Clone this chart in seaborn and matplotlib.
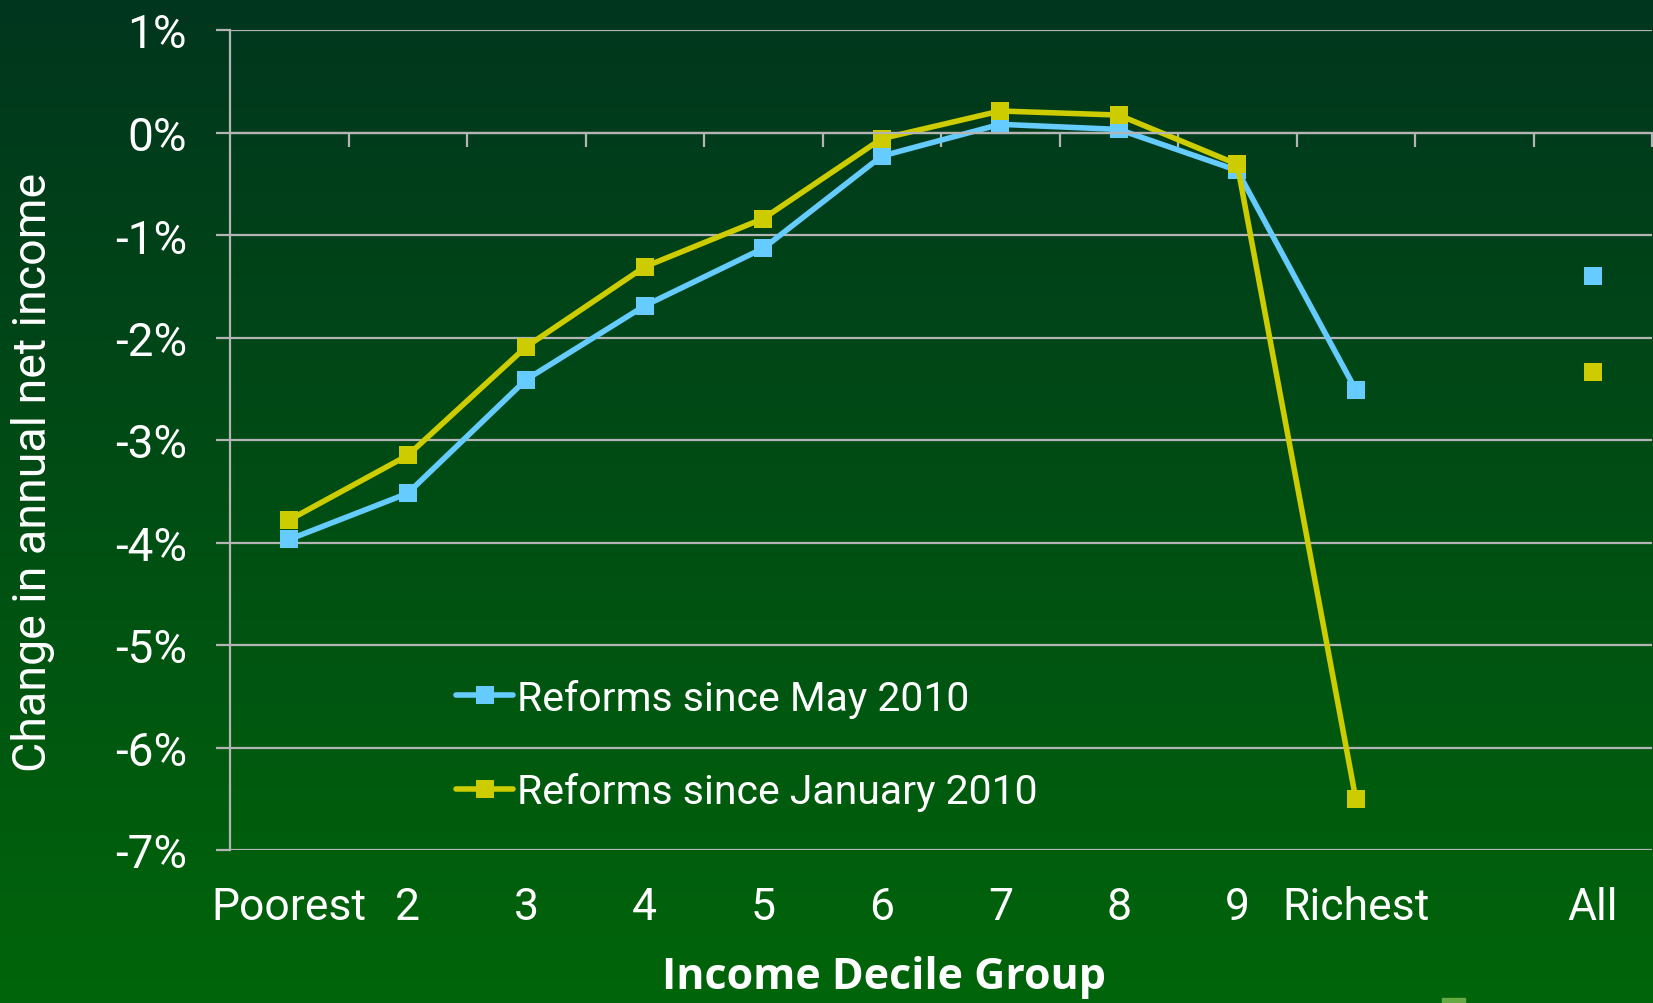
import numpy as np
import matplotlib
matplotlib.use('Agg')
import matplotlib.pyplot as plt
import seaborn as sns
from matplotlib.colors import LinearSegmentedColormap
from matplotlib.patches import Rectangle

# chart data (change in annual net income, %)
categories = ['Poorest', '2', '3', '4', '5', '6', '7', '8', '9', 'Richest', '', 'All']
may_2010 = [-3.97, -3.52, -2.41, -1.69, -1.13, -0.23, 0.08, 0.03, -0.37, -2.51]
jan_2010 = [-3.78, -3.15, -2.09, -1.31, -0.84, -0.06, 0.21, 0.17, -0.31, -6.50]
may_all = -1.40
jan_all = -2.34
y_ticks = [1, 0, -1, -2, -3, -4, -5, -6, -7]

blue = '#66ccff'
yellow = '#cccc00'
grid_col = '#b4b4b4'

sns.set_theme(style='white')
plt.rcParams['font.family'] = ['Roboto', 'DejaVu Sans']

fig = plt.figure(figsize=(16.53, 10.04), dpi=100)

# gradient background
bg = fig.add_axes([0, 0, 1, 1], zorder=-10)
cmap = LinearSegmentedColormap.from_list('bg', ['#00361e', '#00650a'])
bg.imshow(np.linspace(0, 1, 256).reshape(-1, 1), aspect='auto', cmap=cmap,
          extent=[0, 1, 0, 1])
bg.set_axis_off()

ax = fig.add_axes([230 / 1653, 1 - 851 / 1004, 1422 / 1653, 820 / 1004])
ax.set_facecolor('none')

pos = np.arange(len(categories))
sns.lineplot(x=pos[:10], y=may_2010, ax=ax, color=blue, lw=4, marker='s',
             markersize=13.5, markeredgewidth=0, label='Reforms since May 2010')
sns.lineplot(x=pos[:10], y=jan_2010, ax=ax, color=yellow, lw=4, marker='s',
             markersize=13.5, markeredgewidth=0, label='Reforms since January 2010')
sns.scatterplot(x=[pos[11]], y=[may_all], ax=ax, color=blue, marker='s', s=182,
                linewidth=0, legend=False)
sns.scatterplot(x=[pos[11]], y=[jan_all], ax=ax, color=yellow, marker='s', s=182,
                linewidth=0, legend=False)

ax.set_xlim(-0.5, 11.5)
ax.set_ylim(-7, 1)

# y axis with gridlines
ax.set_yticks(y_ticks)
ax.set_yticklabels([f'{t}%' for t in y_ticks], color='white', fontsize=33)
ax.yaxis.grid(True, color=grid_col, lw=1.6)
ax.tick_params(axis='y', direction='out', length=10, width=1.6, color=grid_col, pad=21, left=True)
for s in ['top', 'right']:
    ax.spines[s].set_visible(False)
ax.spines['left'].set_color(grid_col)
ax.spines['left'].set_linewidth(1.6)

# x axis sits at 0% with boundary ticks pointing down
ax.spines['bottom'].set_position(('data', 0))
ax.spines['bottom'].set_color(grid_col)
ax.spines['bottom'].set_linewidth(1.6)
ax.set_xticks(np.arange(0.5, 12, 1))
ax.set_xticklabels([])
ax.tick_params(axis='x', direction='out', length=10, width=1.6, color=grid_col, bottom=True)
ax.set_axisbelow(True)

# category labels below the plot
sec = ax.secondary_xaxis(0)
sec.set_xticks(pos)
sec.set_xticklabels(categories, color='white', fontsize=32)
sec.tick_params(length=0, pad=26)
sec.spines['bottom'].set_visible(False)

ax.set_xlabel('')
ax.set_ylabel('')
fig.text(884 / 1653, 1 - 978 / 1004, 'Income Decile Group', color='white', fontsize=31,
         fontweight='bold', family=['Open Sans', 'DejaVu Sans'], ha='center', va='center')
fig.text(33 / 1653, 1 - 472 / 1004, 'Change in annual net income', color='white', fontsize=33.5,
         rotation=90, ha='center', va='center')

leg = ax.legend(loc='center left', bbox_to_anchor=(0.133, 0.128), frameon=False,
                fontsize=29.5, handlelength=1.4, handletextpad=0.1, labelspacing=1.34)
for t in leg.get_texts():
    t.set_color('white')

# small mark at bottom edge
fig.patches.append(Rectangle((1442 / 1653, 0), 23 / 1653, 5 / 1004, color='#66aa44',
                             transform=fig.transFigure, figure=fig))

fig.savefig('out.png', dpi=100)
